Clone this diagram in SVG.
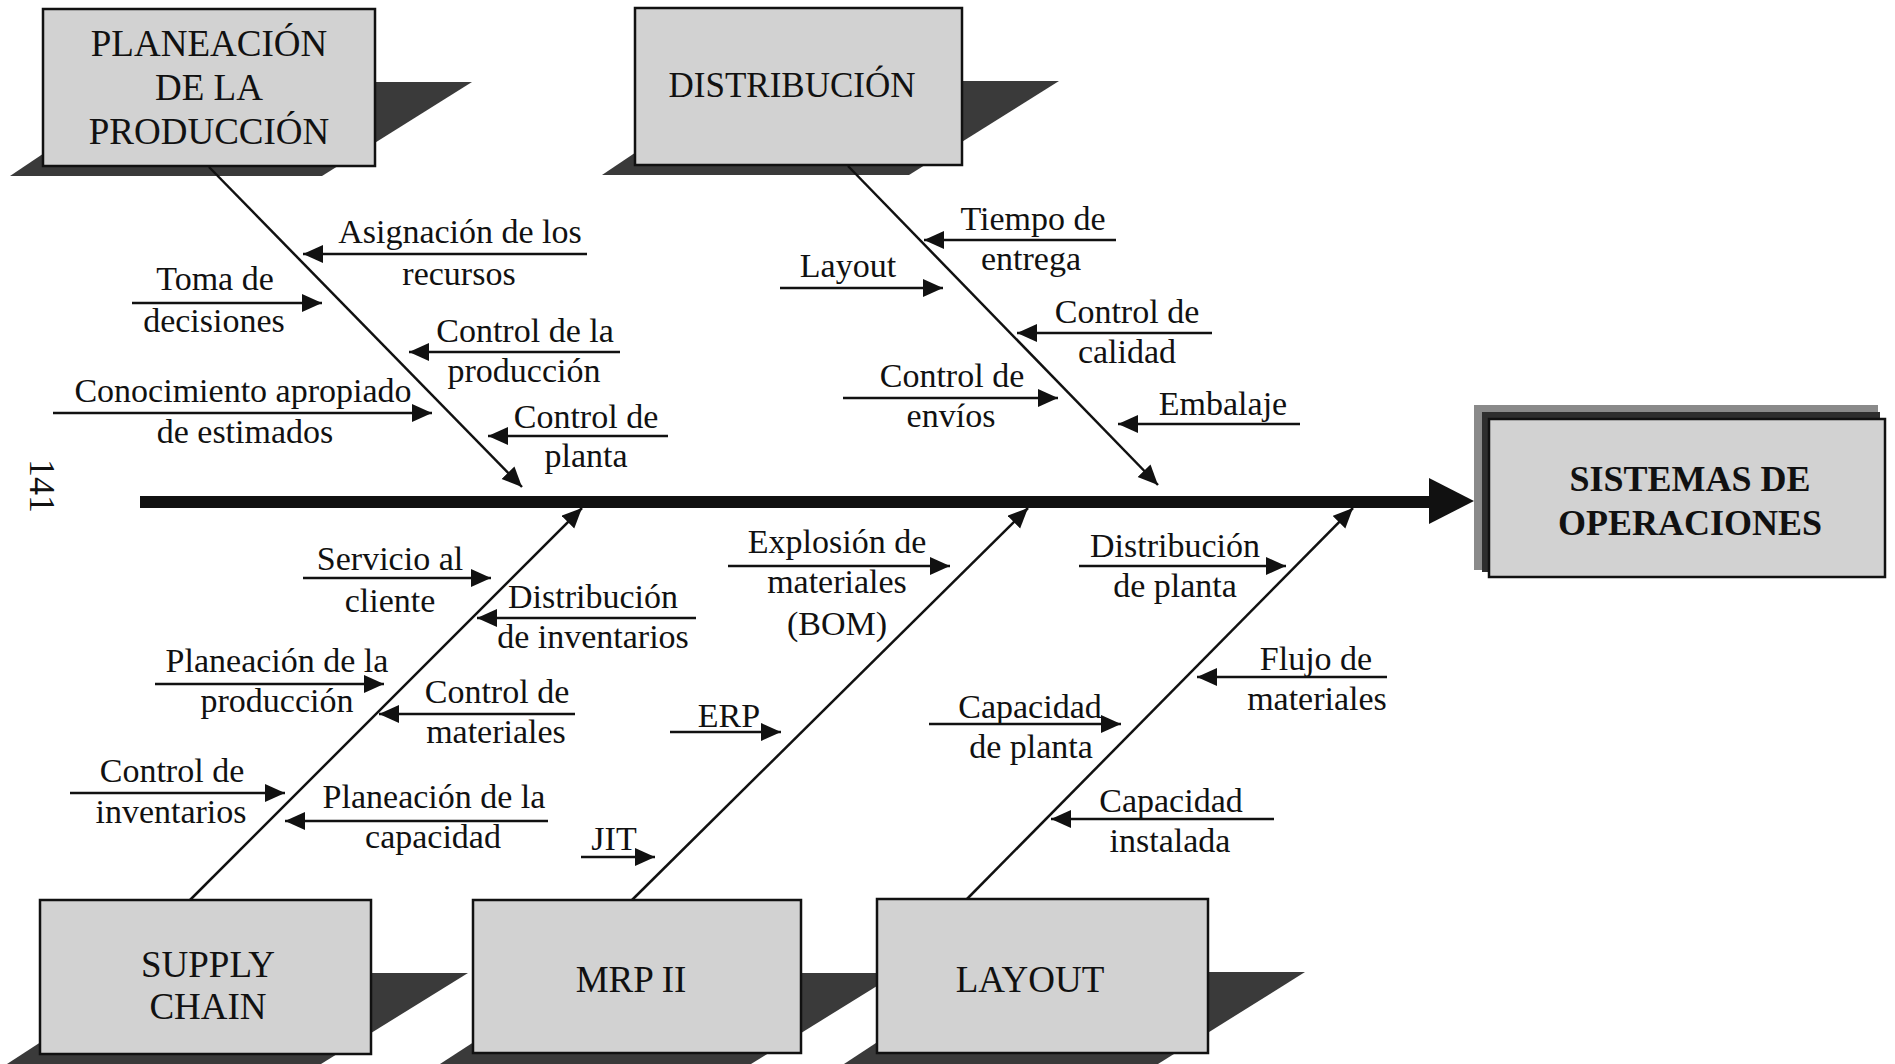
<svg xmlns="http://www.w3.org/2000/svg" width="1895" height="1064" viewBox="0 0 1895 1064">
<style>
.lbl{font-family:"Liberation Serif","Times New Roman",serif;font-size:34px;text-anchor:middle;fill:#111}
.ttl{font-family:"Liberation Serif","Times New Roman",serif;font-size:37px;text-anchor:middle;fill:#111}
.big{font-family:"Liberation Serif","Times New Roman",serif;font-size:36px;font-weight:bold;text-anchor:middle;fill:#111}
.box{fill:#d2d2d2;stroke:#111;stroke-width:2.5}
.shadow{fill:#3a3a3a}
.arr{stroke:#111;stroke-width:2.5;fill:none;marker-end:url(#ah)}
</style>
<defs>
<marker id="ah" markerUnits="userSpaceOnUse" markerWidth="22" markerHeight="20" refX="20" refY="9" orient="auto">
<path d="M0,0 L20,9 L0,18 Z" fill="#111"/>
</marker>
</defs>
<rect width="1895" height="1064" fill="#fff"/>

<g id="shadows">
<polygon class="shadow" points="150,82 472,82 322,176 10,176"/>
<polygon class="shadow" points="742,81 1059,81 909,175 602,175"/>
<polygon class="shadow" points="147,973 468,973 321,1064 7,1064"/>
<polygon class="shadow" points="580,973 898,973 751,1064 440,1064"/>
<polygon class="shadow" points="984,972 1305,972 1158,1064 844,1064"/>
</g>

<g id="node-planeacion">
<rect class="box" x="43" y="9" width="332" height="157"/>
<text class="ttl" x="209" y="56">PLANEACIÓN</text>
<text class="ttl" x="209" y="100">DE LA</text>
<text class="ttl" x="209" y="144">PRODUCCIÓN</text>
</g>
<g id="node-distribucion">
<rect class="box" x="635" y="8" width="327" height="157"/>
<text class="ttl" x="792" y="97" style="font-size:35px">DISTRIBUCIÓN</text>
</g>
<g id="node-sistemas">
<rect x="1474" y="405" width="404" height="165" fill="#8a8a8a"/>
<rect x="1482" y="412" width="398" height="160" fill="#2e2e2e"/>
<rect class="box" x="1489" y="419" width="396" height="158"/>
<text class="big" x="1690" y="491">SISTEMAS DE</text>
<text class="big" x="1690" y="535">OPERACIONES</text>
</g>
<g id="node-supply">
<rect class="box" x="40" y="900" width="331" height="154"/>
<text class="ttl" x="208" y="977">SUPPLY</text>
<text class="ttl" x="208" y="1019">CHAIN</text>
</g>
<g id="node-mrp">
<rect class="box" x="473" y="900" width="328" height="153"/>
<text class="ttl" x="631" y="992">MRP II</text>
</g>
<g id="node-layout">
<rect class="box" x="877" y="899" width="331" height="154"/>
<text class="ttl" x="1030" y="992">LAYOUT</text>
</g>

<g id="connectors">
<line x1="140" y1="502" x2="1434" y2="502" stroke="#111" stroke-width="12"/>
<polygon points="1429,478 1474,501 1429,524" fill="#111"/>
<line class="arr" x1="209" y1="167" x2="522" y2="487"/>
<line class="arr" x1="848" y1="166" x2="1158" y2="485"/>
<line class="arr" x1="190" y1="900" x2="582" y2="508"/>
<line class="arr" x1="632" y1="900" x2="1028" y2="508"/>
<line class="arr" x1="967" y1="899" x2="1353" y2="508"/>

<line class="arr" x1="587" y1="254" x2="303" y2="254"/>
<line class="arr" x1="132" y1="303" x2="322" y2="303"/>
<line class="arr" x1="620" y1="352" x2="409" y2="352"/>
<line class="arr" x1="53" y1="413" x2="432" y2="413"/>
<line class="arr" x1="668" y1="436" x2="488" y2="436"/>

<line class="arr" x1="1116" y1="240" x2="924" y2="240"/>
<line class="arr" x1="780" y1="288" x2="943" y2="288"/>
<line class="arr" x1="1212" y1="333" x2="1017" y2="333"/>
<line class="arr" x1="843" y1="398" x2="1058" y2="398"/>
<line class="arr" x1="1300" y1="424" x2="1118" y2="424"/>

<line class="arr" x1="303" y1="578" x2="491" y2="578"/>
<line class="arr" x1="696" y1="618" x2="477" y2="618"/>
<line class="arr" x1="155" y1="684" x2="384" y2="684"/>
<line class="arr" x1="575" y1="714" x2="379" y2="714"/>
<line class="arr" x1="70" y1="793" x2="285" y2="793"/>
<line class="arr" x1="548" y1="821" x2="285" y2="821"/>
<line class="arr" x1="581" y1="857" x2="655" y2="857"/>

<line class="arr" x1="728" y1="566" x2="950" y2="566"/>
<line class="arr" x1="670" y1="732" x2="781" y2="732"/>

<line class="arr" x1="1079" y1="566" x2="1286" y2="566"/>
<line class="arr" x1="1387" y1="677" x2="1197" y2="677"/>
<line class="arr" x1="929" y1="724" x2="1121" y2="724"/>
<line class="arr" x1="1274" y1="819" x2="1051" y2="819"/>
</g>

<g id="causes-planeacion">
<text class="lbl" x="460" y="243">Asignación de los</text>
<text class="lbl" x="459" y="285">recursos</text>
<text class="lbl" x="215" y="290">Toma de</text>
<text class="lbl" x="214" y="332">decisiones</text>
<text class="lbl" x="525" y="342">Control de la</text>
<text class="lbl" x="524" y="382">producción</text>
<text class="lbl" x="243" y="402">Conocimiento apropiado</text>
<text class="lbl" x="245" y="443">de estimados</text>
<text class="lbl" x="586" y="428">Control de</text>
<text class="lbl" x="586" y="467">planta</text>
</g>
<g id="causes-distribucion">
<text class="lbl" x="1033" y="230">Tiempo de</text>
<text class="lbl" x="1031" y="270">entrega</text>
<text class="lbl" x="848" y="277">Layout</text>
<text class="lbl" x="1127" y="323">Control de</text>
<text class="lbl" x="1127" y="363">calidad</text>
<text class="lbl" x="952" y="387">Control de</text>
<text class="lbl" x="951" y="427">envíos</text>
<text class="lbl" x="1223" y="415">Embalaje</text>
</g>
<g id="causes-supply">
<text class="lbl" x="390" y="570">Servicio al</text>
<text class="lbl" x="390" y="612">cliente</text>
<text class="lbl" x="593" y="608">Distribución</text>
<text class="lbl" x="593" y="648">de inventarios</text>
<text class="lbl" x="277" y="672">Planeación de la</text>
<text class="lbl" x="277" y="712">producción</text>
<text class="lbl" x="497" y="703">Control de</text>
<text class="lbl" x="496" y="743">materiales</text>
<text class="lbl" x="172" y="782">Control de</text>
<text class="lbl" x="171" y="823">inventarios</text>
<text class="lbl" x="434" y="808">Planeación de la</text>
<text class="lbl" x="433" y="848">capacidad</text>
</g>
<g id="causes-mrp">
<text class="lbl" x="614" y="850">JIT</text>
<text class="lbl" x="837" y="553">Explosión de</text>
<text class="lbl" x="837" y="593">materiales</text>
<text class="lbl" x="837" y="635">(BOM)</text>
<text class="lbl" x="729" y="727">ERP</text>
</g>
<g id="causes-layout">
<text class="lbl" x="1175" y="557">Distribución</text>
<text class="lbl" x="1175" y="597">de planta</text>
<text class="lbl" x="1316" y="670">Flujo de</text>
<text class="lbl" x="1317" y="710">materiales</text>
<text class="lbl" x="1030" y="718">Capacidad</text>
<text class="lbl" x="1031" y="758">de planta</text>
<text class="lbl" x="1171" y="812">Capacidad</text>
<text class="lbl" x="1170" y="852">instalada</text>
</g>
<g id="page-number">
<text class="lbl" transform="translate(30,459) rotate(90)" x="0" y="0" style="text-anchor:start;font-size:36px">141</text>
</g>
</svg>
